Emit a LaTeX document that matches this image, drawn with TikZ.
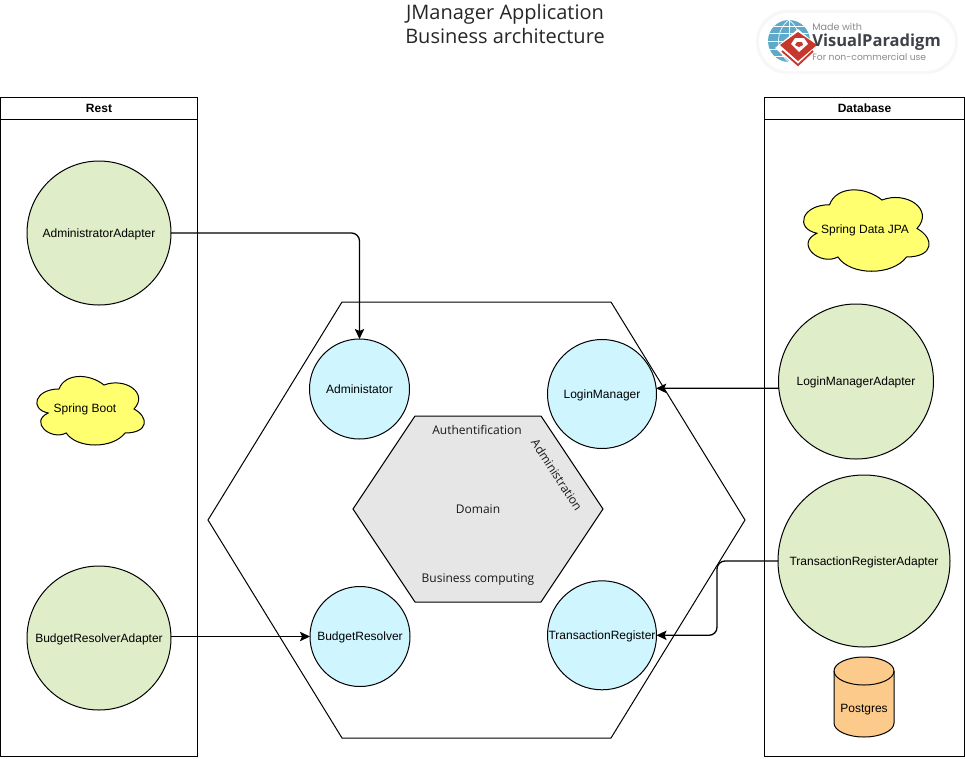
\documentclass[tikz,border=0pt]{standalone}
\usepackage{fontspec}
\setmainfont{Liberation Sans}
\newfontfamily\opensans{Open Sans}
\newfontfamily\logofont{Poppins}
\usetikzlibrary{arrows.meta,shapes.geometric,calc}
\definecolor{greenfill}{HTML}{DFEDC9}
\definecolor{bluefill}{HTML}{CFF5FF}
\definecolor{yellowfill}{HTML}{FFFF70}
\definecolor{orangefill}{HTML}{FCCB8B}
\definecolor{hexfill}{HTML}{E6E6E6}
\definecolor{logored}{HTML}{C8372D}
\definecolor{logoblue}{HTML}{5FA9C9}
\definecolor{logogray}{HTML}{8A8A8A}
\definecolor{logodark}{HTML}{3E4248}
\newcommand{\lab}[1]{\clap{\raisebox{-3.3pt}[0pt][0pt]{#1}}}
\tikzset{
  ln/.style={draw=black,line width=0.75pt},
  lane/.style={ln,rectangle,inner sep=0pt,outer sep=0pt},
  lanehead/.style={ln,rectangle,inner sep=0pt,outer sep=0pt,font=\fontsize{9}{11}\selectfont\bfseries},
  adapter/.style={ln,circle,fill=greenfill,inner sep=0pt,outer sep=0pt,font=\fontsize{9}{11}\selectfont},
  port/.style={ln,circle,fill=bluefill,inner sep=0pt,outer sep=0pt,font=\fontsize{9}{11}\selectfont},
  txt/.style={inner sep=0pt,outer sep=0pt,font=\fontsize{9}{11}\selectfont},
  domtxt/.style={inner sep=0pt,outer sep=0pt,font=\opensans\fontsize{9}{11}\selectfont,text=black!90},
  conn/.style={draw=black,line width=1pt,rounded corners=6pt,-{Stealth[length=7.5pt,width=7pt,inset=1.5pt]}},
  cloudshape/.style={ln,fill=yellowfill},
  cyl/.style={ln,fill=orangefill},
}
% x0 y0 w h
\newcommand{\cloudbody}[4]{%
  \begin{scope}[shift={(#1,#2)},x=#3*0.75pt,y=-#4*0.75pt]
    \path[cloudshape] (.25,.25) .. controls (.05,.25) and (0,.5) .. (.16,.55)
      .. controls (0,.66) and (.18,.9) .. (.31,.8)
      .. controls (.4,1) and (.7,1) .. (.8,.8)
      .. controls (1,.8) and (1,.6) .. (.875,.5)
      .. controls (1,.3) and (.8,.1) .. (.625,.2)
      .. controls (.5,.05) and (.3,.05) .. (.25,.25) -- cycle;
  \end{scope}}
\begin{document}
\begin{tikzpicture}[x=0.75pt,y=-0.75pt]
\useasboundingbox (0,0) rectangle (965,758);

% title
\node[inner sep=0pt,align=center,font=\opensans\fontsize{15}{17.3}\selectfont,text=black!85] (title) at (505,24) {JManager Application\\Business architecture};

% logo
\fill[black!3,rounded corners=23.5pt] (756,10) rectangle (958,74);
\fill[white,rounded corners=22pt] (759,13) rectangle (955,71);
\fill[logoblue] (789,41) circle[radius=21];
\begin{scope}
  \clip (789,41) circle[radius=21];
  \draw[white,line width=0.5pt] (768,33)--(810,33) (768,41)--(810,41) (768,49)--(810,49) (772,26)--(806,26) (772,56)--(806,56);
  \draw[white,line width=0.5pt] (789,20)--(789,62);
  \draw[white,line width=0.5pt] (789,20) .. controls (775,30) and (775,52) .. (789,62);
  \draw[white,line width=0.5pt] (789,20) .. controls (803,30) and (803,52) .. (789,62);
\end{scope}
\fill[white] (798,29) -- (819,47) -- (797,68) -- (775,48) -- cycle;
\fill[logored] (798,32) -- (817,45) -- (798,61) -- (780,45) -- cycle;
\fill[white] (795,38) -- (804,38) -- (808,44) -- (799,52) -- (791,44) -- cycle;
\fill[logored] (797,42) -- (802,42) -- (803,45) -- (799,47) -- (795,45) -- cycle;
\draw[logored,line width=1.4pt] (782,51) -- (798,65) -- (813,51);
\node[inner sep=0pt,anchor=west,text=logogray,font=\logofont\fontsize{7.2}{8}\selectfont] (logoa) at (812,27) {Made with};
\node[inner sep=0pt,anchor=west,text=logodark,font=\opensans\bfseries\fontsize{12.4}{15}\selectfont] (logob) at (812,42) {VisualParadigm};
\node[inner sep=0pt,anchor=west,text=logogray,font=\logofont\fontsize{6.9}{8}\selectfont] (logoc) at (812,57) {For non-commercial use};

% swimlanes
\node[lane,anchor=north west,minimum width=197*0.75pt,minimum height=659*0.75pt] (rest) at (0.5,97) {};
\node[lanehead,anchor=north west,minimum width=197*0.75pt,minimum height=22.5*0.75pt] (resth) at (0.5,97) {Rest};
\node[lane,anchor=north west,minimum width=200*0.75pt,minimum height=659*0.75pt] (db) at (764.5,97) {};
\node[lanehead,anchor=north west,minimum width=200*0.75pt,minimum height=22.5*0.75pt] (dbh) at (764.5,97) {Database};

% hexagons
\path[ln] (208,520) -- (342,302) -- (611,302) -- (745,520) -- (611,738) -- (342,738) -- cycle;
\path[ln,fill=hexfill] (353,509) -- (415,416) -- (541,416) -- (603,509) -- (541,602) -- (415,602) -- cycle;
\node[domtxt] (domain) at (478,509) {Domain};
\node[domtxt] (auth) at (477,430) {Authentification};
\node[domtxt] (biz) at (478,580) {Business computing};
\node[domtxt,rotate=-57] (admtx) at (557,475) {Administration};

% circles
\node[adapter,minimum size=144*0.75pt] (aa) at (99,233) {\lab{AdministratorAdapter}};
\node[adapter,minimum size=144*0.75pt] (ba) at (99,638) {\lab{BudgetResolverAdapter}};
\node[adapter,minimum size=155*0.75pt] (lma) at (856,381.5) {\lab{LoginManagerAdapter}};
\node[adapter,minimum size=172*0.75pt] (tra) at (864,561) {\lab{TransactionRegisterAdapter}};
\node[port,minimum size=100*0.75pt] (adm) at (359.5,389) {\lab{Administator}};
\node[port,minimum size=109*0.75pt] (lm) at (602,394) {\lab{LoginManager}};
\node[port,minimum size=100*0.75pt] (br) at (360,636.5) {\lab{BudgetResolver}};
\node[port,minimum size=109*0.75pt] (tr) at (602,635.3) {\lab{TransactionRegister}};

% clouds
\cloudbody{29}{369}{120}{80}
\node[txt] (sb) at (85,409.2) {Spring Boot};
\cloudbody{794.5}{181}{140}{95}
\node[txt] (jpa) at (865,230.2) {Spring Data JPA};

% cylinder
\path[cyl] (834,671) arc[x radius=30,y radius=14,start angle=180,end angle=360] -- (894,723) arc[x radius=30,y radius=14,start angle=0,end angle=180] -- cycle;
\path[ln] (834,671) arc[x radius=30,y radius=14,start angle=180,end angle=0];
\node[txt] (pg) at (864,709.2) {Postgres};

% connectors
\draw[conn] (aa.east) -| (adm.north);
\draw[conn] (lma.185) -- (lm.6);
\draw[conn] (ba.east |- br.west) -- (br.west);
\coordinate (bend) at (717,561);
\draw[conn] (tra.west) -- (bend) |- (tr.east);
\end{tikzpicture}
\end{document}
